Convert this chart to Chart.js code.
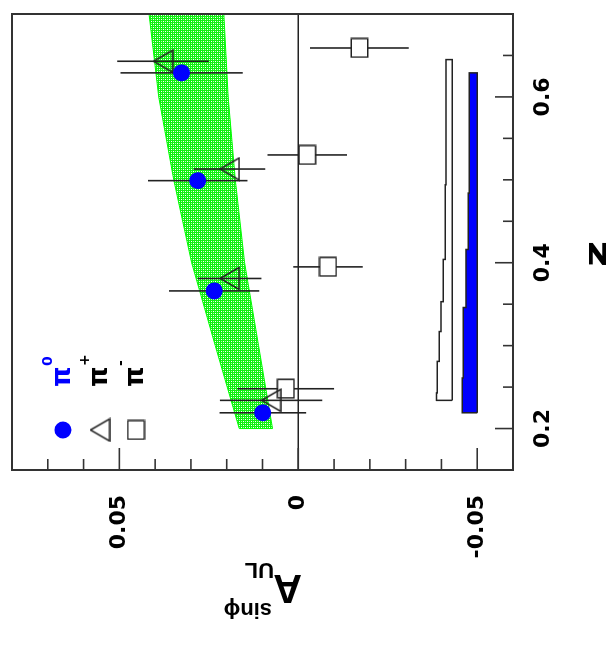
<!DOCTYPE html>
<html>
<head>
<meta charset="utf-8">
<script src="https://cdn.jsdelivr.net/npm/chart.js@4/dist/chart.umd.min.js"></script>
<style>
  html, body { margin: 0; padding: 0; background: #fff; overflow: hidden; }
  /* the figure is drawn upright, then turned a quarter turn like the scan */
  #wrap { position: absolute; left: 0; top: 0; width: 645px; height: 607px;
          transform-origin: 0 0; transform: translateY(645px) rotate(-90deg); }
</style>
</head>
<body>
<div id="wrap"><canvas id="chart" width="645" height="607"></canvas></div>
<script>
/** z values and asymmetries. */
const zPi0 = [0.219, 0.366, 0.499, 0.629];
const aPi0 = [0.0099, 0.0235, 0.0281, 0.0326];
const ePi0 = [0.0121, 0.0126, 0.0139, 0.0171];

const zPip = [0.234, 0.381, 0.513, 0.643];
const aPip = [0.0076, 0.0192, 0.0192, 0.0378];
const ePip = [0.0143, 0.0089, 0.0100, 0.0128];

const zPim = [0.248, 0.395, 0.530, 0.659];
const aPim = [0.0035, -0.0083, -0.0025, -0.0171];
const ePim = [0.0135, 0.0097, 0.0111, 0.0138];

/** Theory band (green). */
const bandZ = [0.20, 0.30, 0.40, 0.50, 0.60, 0.70];
const bandHi = [0.0165, 0.0232, 0.0298, 0.0348, 0.0390, 0.0417];
const bandLo = [0.0072, 0.0111, 0.0150, 0.0176, 0.0196, 0.0208];

/** Systematic error bands. */
const sysPipEdges = [0.234, 0.243, 0.281, 0.317, 0.353, 0.404, 0.494, 0.645];
const sysPipWidth = [0.0044, 0.0042, 0.0036, 0.0031, 0.0025, 0.0019, 0.0017];
const sysPipBase = -0.043;
const sysPi0Edges = [0.219, 0.261, 0.346, 0.416, 0.484, 0.629];
const sysPi0Width = [0.0042, 0.0039, 0.0031, 0.0025, 0.0022];
const sysPi0Base = -0.05;

/** Axis ticks. */
const zTicks = [0.2, 0.4, 0.6];
const zTickLabels = ['0.2', '0.4', '0.6'];
const aTicks = [-0.05, 0, 0.05];
const aTickLabels = ['-0.05', '0', '0.05'];

const ink = '#222';

const pts = (xs, ys) => xs.map((x, i) => ({ x, y: ys[i] }));

const bandShape = () => {
  const up = pts(bandZ, bandHi);
  const down = pts(bandZ, bandLo).reverse();
  return [...up, ...down, up[0]];
};

const sysShape = (edges, widths, base) => {
  const top = [];
  widths.forEach((w, i) => {
    top.push({ x: edges[i], y: base + w });
    top.push({ x: edges[i + 1], y: base + w });
  });
  const first = { x: edges[0], y: base };
  return [first, ...top, { x: edges[edges.length - 1], y: base }, first];
};

/** Marker images. */
const makeTriangle = () => {
  const c = document.createElement('canvas');
  c.width = 25; c.height = 21;
  const g = c.getContext('2d');
  g.strokeStyle = ink; g.lineWidth = 1.5;
  g.beginPath();
  g.moveTo(12.5, 1); g.lineTo(23.5, 20); g.lineTo(1.5, 20); g.closePath();
  g.stroke();
  return c;
};
const makeSquare = () => {
  const c = document.createElement('canvas');
  c.width = 21; c.height = 19;
  const g = c.getContext('2d');
  g.fillStyle = '#fff'; g.fillRect(1, 1, 19, 17);
  g.strokeStyle = ink; g.lineWidth = 1.5;
  g.strokeRect(1.25, 1.25, 18.5, 16.5);
  return c;
};
const makeHatch = () => {
  const c = document.createElement('canvas');
  c.width = 4; c.height = 4;
  const g = c.getContext('2d');
  g.fillStyle = '#10f010'; g.fillRect(0, 0, 4, 4);
  g.fillStyle = '#ffffff'; g.fillRect(1, 1, 1, 1); g.fillRect(3, 3, 1, 1);
  g.fillStyle = '#b0ffb0'; g.fillRect(3, 1, 1, 1); g.fillRect(1, 3, 1, 1);
  return c;
};

const triImg = makeTriangle();
const sqImg = makeSquare();
const canvas = document.getElementById('chart');
const ctx = canvas.getContext('2d');
const hatch = ctx.createPattern(makeHatch(), 'repeat');

/** Error bars drawn just under each marker set. */
const errorBars = {
  id: 'errorBars',
  beforeDatasetDraw(chart, args) {
    const ds = chart.data.datasets[args.index];
    if (!ds.errors) return;
    const { ctx, scales: { x, y } } = chart;
    ctx.save();
    ctx.strokeStyle = ink;
    ctx.lineWidth = 1.6;
    ds.data.forEach((p, i) => {
      const px = x.getPixelForValue(p.x);
      ctx.beginPath();
      ctx.moveTo(px, y.getPixelForValue(p.y - ds.errors[i]));
      ctx.lineTo(px, y.getPixelForValue(p.y + ds.errors[i]));
      ctx.stroke();
    });
    ctx.restore();
  },
};

/** Zero line, frame, inward ticks, legend and titles. */
const decor = {
  id: 'decor',
  beforeDatasetsDraw(chart) {
    const { ctx, chartArea: a, scales: { y } } = chart;
    const y0 = y.getPixelForValue(0);
    ctx.save();
    ctx.strokeStyle = ink;
    ctx.lineWidth = 1.6;
    ctx.beginPath();
    ctx.moveTo(a.left, y0); ctx.lineTo(a.right, y0);
    ctx.stroke();
    ctx.restore();
  },
  afterDraw(chart) {
    const { ctx, chartArea: a, scales: { x, y } } = chart;
    ctx.save();
    ctx.strokeStyle = '#333';
    ctx.lineWidth = 2;
    ctx.strokeRect(a.left, a.top, a.right - a.left, a.bottom - a.top);

    // ticks on z axis, pointing in
    ctx.lineWidth = 1.6;
    for (let k = 3; k <= 14; k++) {
      const v = k * 0.05;
      const major = k % 4 === 0;
      const px = x.getPixelForValue(v);
      ctx.beginPath();
      ctx.moveTo(px, a.bottom);
      ctx.lineTo(px, a.bottom - (major ? 18 : 10));
      ctx.stroke();
    }
    // ticks on asymmetry axis, pointing in
    for (let k = -6; k <= 8; k++) {
      const v = k * 0.01;
      const major = k % 5 === 0;
      const py = y.getPixelForValue(v);
      ctx.beginPath();
      ctx.moveTo(a.left, py);
      ctx.lineTo(a.left + (major ? 22 : 11), py);
      ctx.stroke();
    }

    // legend
    const lx = 215;
    ctx.fillStyle = '#0000ff';
    ctx.beginPath(); ctx.arc(lx, 63, 8.5, 0, Math.PI * 2); ctx.fill();
    ctx.drawImage(triImg, lx - triImg.width / 2, 100 - triImg.height / 2);
    ctx.drawImage(sqImg, lx - sqImg.width / 2, 136 - sqImg.height / 2);

    ctx.textAlign = 'left';
    ctx.textBaseline = 'alphabetic';
    const labels = [['0', '#0000ff', 63], ['+', '#000', 100], ['-', '#000', 136]];
    labels.forEach(([sup, col, yy]) => {
      ctx.fillStyle = col;
      ctx.font = 'bold 26px "DejaVu Sans"';
      ctx.fillText('\u03c0', 258, yy + 7);
      ctx.font = 'bold 14px "DejaVu Sans"';
      ctx.fillText(sup, 279, yy - 11);
    });

    // z title
    ctx.fillStyle = '#000';
    ctx.save();
    ctx.translate(391, 606);
    ctx.scale(1.5, 1);
    ctx.font = 'bold 30px "DejaVu Sans"';
    ctx.textAlign = 'center';
    ctx.fillText('z', 0, 0);
    ctx.restore();

    // asymmetry title, reading upwards
    ctx.save();
    ctx.translate(70, 302);
    ctx.rotate(-Math.PI / 2);
    ctx.font = 'bold 40px "Liberation Sans"';
    ctx.fillText('A', 0, 0);
    ctx.font = 'bold 22px "Liberation Sans"';
    ctx.fillText('UL', 28, 12);
    ctx.fillText('sin\u03d5', 30, -28);
    ctx.restore();

    ctx.restore();
  },
};

const config = {
  type: 'scatter',
  data: {
    datasets: [
      {
        label: 'pi0',
        data: pts(zPi0, aPi0),
        errors: ePi0,
        pointStyle: 'circle',
        pointRadius: 8.5,
        backgroundColor: '#0000ff',
        borderWidth: 0,
        order: 0,
      },
      {
        label: 'pi+',
        data: pts(zPip, aPip),
        errors: ePip,
        pointStyle: triImg,
        pointRadius: 11,
        order: 1,
      },
      {
        label: 'pi-',
        data: pts(zPim, aPim),
        errors: ePim,
        pointStyle: sqImg,
        pointRadius: 10,
        order: 2,
      },
      {
        type: 'line',
        label: 'sys pi+',
        data: sysShape(sysPipEdges, sysPipWidth, sysPipBase),
        borderColor: ink,
        borderWidth: 1.5,
        backgroundColor: '#ffffff',
        fill: 'shape',
        pointRadius: 0,
        tension: 0,
        order: 5,
      },
      {
        type: 'line',
        label: 'sys pi0',
        data: sysShape(sysPi0Edges, sysPi0Width, sysPi0Base),
        borderColor: ink,
        borderWidth: 1.5,
        backgroundColor: '#0000ff',
        fill: 'shape',
        pointRadius: 0,
        tension: 0,
        order: 6,
      },
      {
        type: 'line',
        label: 'theory',
        data: bandShape(),
        borderColor: '#00ff00',
        borderWidth: 1,
        backgroundColor: hatch,
        fill: 'shape',
        pointRadius: 0,
        tension: 0,
        order: 10,
      },
    ],
  },
  options: {
    responsive: false,
    animation: false,
    devicePixelRatio: 1,
    layout: { padding: { top: 10, right: 14, left: 0, bottom: 0 } },
    plugins: { legend: { display: false }, tooltip: { enabled: false } },
    scales: {
      x: {
        type: 'linear',
        min: 0.15,
        max: 0.7,
        grid: { display: false, drawTicks: false },
        border: { display: false },
        afterBuildTicks: (s) => { s.ticks = zTicks.map((v) => ({ value: v })); },
        afterFit: (s) => { s.height = 94; s.paddingLeft = 0; s.paddingRight = 0; },
        ticks: {
          autoSkip: false,
          maxRotation: 0,
          padding: 17,
          color: '#000',
          font: { family: 'DejaVu Sans', weight: 'bold', size: 22 },
          callback: (v) => zTickLabels[zTicks.findIndex((t) => Math.abs(t - v) < 1e-6)],
        },
      },
      y: {
        type: 'linear',
        min: -0.06,
        max: 0.08,
        grid: { display: false, drawTicks: false },
        border: { display: false },
        afterBuildTicks: (s) => { s.ticks = aTicks.map((v) => ({ value: v })); },
        afterFit: (s) => { s.width = 175; s.paddingTop = 0; s.paddingBottom = 0; },
        ticks: {
          autoSkip: false,
          padding: 25,
          color: '#000',
          font: { family: 'DejaVu Sans', weight: 'bold', size: 22 },
          callback: (v) => aTickLabels[aTicks.findIndex((t) => Math.abs(t - v) < 1e-6)],
        },
      },
    },
  },
  plugins: [errorBars, decor],
};

new Chart(ctx, config);
</script>
</body>
</html>
